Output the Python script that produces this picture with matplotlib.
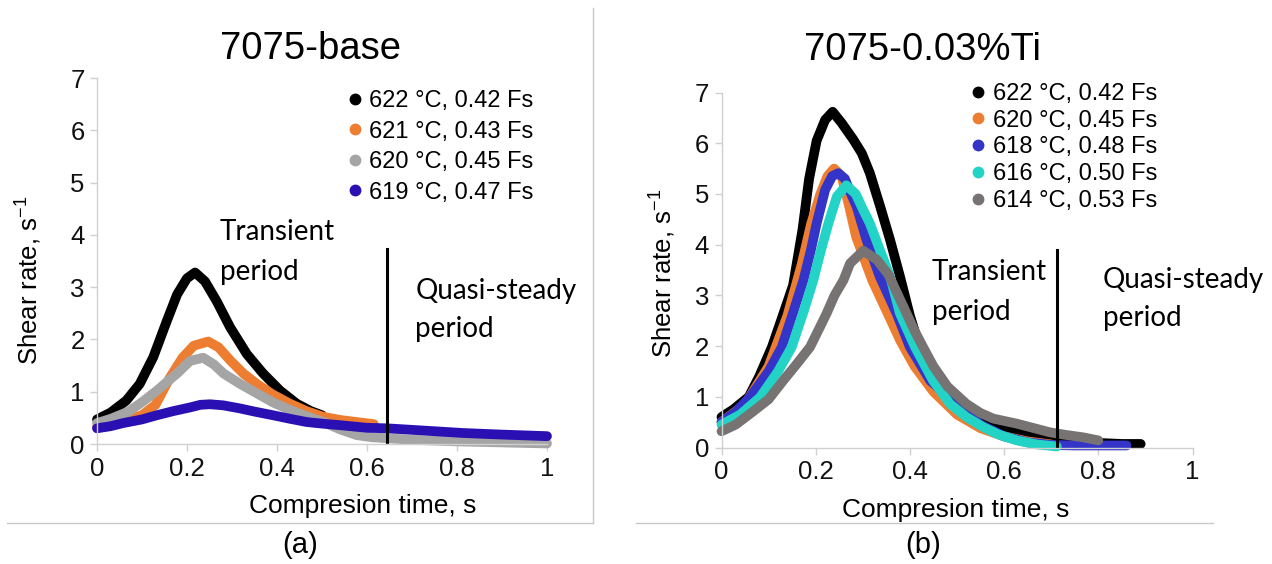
import matplotlib
matplotlib.use("Agg")
import matplotlib.pyplot as plt
from matplotlib.lines import Line2D

plt.rcParams['font.family'] = ['Liberation Sans', 'DejaVu Sans']
plt.rcParams['axes.unicode_minus'] = False

# ---- panel (a): 7075-base ----
a_labels = ["622 °C, 0.42 Fs", "621 °C, 0.43 Fs", "620 °C, 0.45 Fs", "619 °C, 0.47 Fs"]
a_colors = ["#000000", "#ed7d31", "#a5a5a5", "#2a0fb3"]

a_t_622 = [0, 0.03, 0.065, 0.095, 0.125, 0.155, 0.178, 0.2, 0.218, 0.24, 0.266, 0.296,
           0.333, 0.369, 0.407, 0.444, 0.475, 0.5]
a_v_622 = [0.47, 0.6, 0.83, 1.15, 1.66, 2.35, 2.86, 3.17, 3.28, 3.11, 2.73, 2.23,
           1.72, 1.35, 1.02, 0.77, 0.63, 0.55]

a_t_621 = [0, 0.05, 0.1, 0.13, 0.162, 0.19, 0.215, 0.247, 0.27, 0.296, 0.325, 0.355,
           0.39, 0.429, 0.465, 0.503, 0.54, 0.577, 0.615]
a_v_621 = [0.33, 0.42, 0.55, 0.75, 1.27, 1.65, 1.88, 1.96, 1.85, 1.6, 1.35, 1.15,
           0.95, 0.77, 0.63, 0.52, 0.46, 0.42, 0.38]

a_t_620 = [0, 0.03, 0.07, 0.1, 0.133, 0.16, 0.178, 0.207, 0.236, 0.26, 0.281, 0.318,
           0.355, 0.39, 0.429, 0.466, 0.503, 0.54, 0.577, 0.61, 0.7, 0.8, 0.9, 1.0]
a_v_620 = [0.4, 0.48, 0.62, 0.8, 1.02, 1.22, 1.35, 1.59, 1.65, 1.52, 1.35, 1.15,
           0.97, 0.8, 0.65, 0.53, 0.42, 0.28, 0.17, 0.13, 0.08, 0.05, 0.03, 0.01]

a_t_619 = [0, 0.03, 0.058, 0.1, 0.133, 0.17, 0.207, 0.23, 0.251, 0.28, 0.318, 0.35,
           0.391, 0.43, 0.466, 0.5, 0.54, 0.6, 0.644, 0.72, 0.814, 0.9, 1.0]
a_v_619 = [0.3, 0.34, 0.4, 0.47, 0.55, 0.63, 0.7, 0.75, 0.76, 0.74, 0.68, 0.62,
           0.55, 0.48, 0.42, 0.39, 0.36, 0.31, 0.3, 0.26, 0.21, 0.18, 0.15]

a_series = [(a_t_622, a_v_622), (a_t_621, a_v_621), (a_t_620, a_v_620), (a_t_619, a_v_619)]
a_split = 0.645
a_split_top = 3.72

# ---- panel (b): 7075-0.03%Ti ----
b_labels = ["622 °C, 0.42 Fs", "620 °C, 0.45 Fs", "618 °C, 0.48 Fs", "616 °C, 0.50 Fs", "614 °C, 0.53 Fs"]
b_colors = ["#000000", "#ed7d31", "#3434c8", "#22d3c6", "#777373"]

b_t_622 = [0, 0.025, 0.058, 0.08, 0.107, 0.13, 0.152, 0.172, 0.186, 0.202, 0.22, 0.236,
           0.255, 0.28, 0.298, 0.315, 0.337, 0.358, 0.379, 0.4, 0.42, 0.45, 0.5, 0.55,
           0.6, 0.65, 0.7, 0.75, 0.8, 0.85, 0.89]
b_v_622 = [0.6, 0.75, 1.0, 1.4, 1.98, 2.6, 3.2, 4.3, 5.3, 6.05, 6.46, 6.62,
           6.4, 6.07, 5.8, 5.41, 4.75, 4.09, 3.37, 2.6, 2.0, 1.5, 0.95, 0.6,
           0.38, 0.25, 0.17, 0.12, 0.09, 0.07, 0.07]

b_t_620 = [0, 0.05, 0.1, 0.14, 0.17, 0.19, 0.21, 0.225, 0.239, 0.255, 0.27, 0.286,
           0.3, 0.32, 0.35, 0.38, 0.41, 0.45, 0.5, 0.55, 0.6, 0.65, 0.7]
b_v_620 = [0.5, 0.85, 1.6, 2.6, 3.6, 4.4, 5.0, 5.35, 5.5, 5.35, 4.8, 4.15,
           3.8, 3.3, 2.7, 2.1, 1.6, 1.1, 0.65, 0.38, 0.22, 0.12, 0.06]

b_t_618 = [0, 0.03, 0.06, 0.1, 0.128, 0.15, 0.174, 0.19, 0.202, 0.22, 0.235, 0.248,
           0.262, 0.275, 0.287, 0.308, 0.336, 0.372, 0.4, 0.443, 0.5, 0.55, 0.6,
           0.65, 0.7, 0.75, 0.8, 0.86]
b_v_618 = [0.5, 0.7, 0.99, 1.5, 1.98, 2.6, 3.3, 3.9, 4.42, 5.08, 5.35, 5.41,
           5.3, 5.0, 4.75, 4.09, 3.37, 2.64, 1.98, 1.32, 0.85, 0.45, 0.22,
           0.1, 0.05, 0.04, 0.04, 0.04]

b_t_616 = [0, 0.04, 0.082, 0.12, 0.149, 0.175, 0.195, 0.21, 0.227, 0.245, 0.265, 0.285,
           0.3, 0.315, 0.336, 0.358, 0.379, 0.411, 0.449, 0.485, 0.52, 0.556, 0.59,
           0.627, 0.67, 0.712]
b_v_616 = [0.45, 0.65, 0.99, 1.5, 1.98, 2.7, 3.3, 3.85, 4.42, 4.95, 5.17, 5.0,
           4.7, 4.42, 3.9, 3.37, 2.64, 1.98, 1.32, 0.86, 0.6, 0.4, 0.25,
           0.14, 0.06, 0.02]

b_t_614 = [0, 0.03, 0.06, 0.1, 0.131, 0.16, 0.188, 0.205, 0.223, 0.24, 0.259, 0.273,
           0.301, 0.33, 0.355, 0.375, 0.393, 0.41, 0.428, 0.45, 0.48, 0.52, 0.55,
           0.577, 0.627, 0.66, 0.697, 0.73, 0.768, 0.8]
b_v_614 = [0.32, 0.45, 0.66, 0.95, 1.32, 1.65, 1.98, 2.3, 2.64, 3.0, 3.3, 3.63,
           3.88, 3.7, 3.4, 3.0, 2.64, 2.3, 1.98, 1.6, 1.2, 0.86, 0.68,
           0.57, 0.47, 0.39, 0.3, 0.25, 0.2, 0.14]

b_series = [(b_t_622, b_v_622), (b_t_620, b_v_620), (b_t_618, b_v_618),
            (b_t_616, b_v_616), (b_t_614, b_v_614)]
b_split = 0.713
b_split_top = 3.9

x_ticks = [0, 0.2, 0.4, 0.6, 0.8, 1]
x_ticklabels = ["0", "0.2", "0.4", "0.6", "0.8", "1"]
y_ticks = [0, 1, 2, 3, 4, 5, 6, 7]

W, H = 1272, 564
fig = plt.figure(figsize=(W / 100, H / 100), dpi=100)

ax_a = fig.add_axes([97 / W, 1 - 444 / H, 450 / W, 366 / H])
ax_b = fig.add_axes([721.5 / W, 1 - 447.5 / H, 471 / W, 355 / H])

note_font = dict(family=['Lato', 'DejaVu Sans'], fontsize=20)


def style_axes(ax):
    ax.set_xlim(0, 1)
    ax.set_ylim(0, 7)
    ax.set_xticks(x_ticks)
    ax.set_xticklabels(x_ticklabels)
    ax.set_yticks(y_ticks)
    for s in ['top', 'right']:
        ax.spines[s].set_visible(False)
    for s in ['left', 'bottom']:
        ax.spines[s].set_color('#d0d0d0')
        ax.spines[s].set_linewidth(1.0)
    ax.tick_params(direction='out', length=5, width=1, color='#d0d0d0',
                   labelsize=18.5, labelcolor='#111111', pad=4)
    ax.patch.set_alpha(0)


def draw_panel(ax, series, colors):
    for (t, v), c in zip(series, colors):
        ax.plot(t, v, color=c, lw=7, solid_capstyle='round', solid_joinstyle='round',
                clip_on=False)
    return [Line2D([], [], ls='none', marker='o', ms=7.5, color=c) for c in colors]


style_axes(ax_a)
h_a = draw_panel(ax_a, a_series, a_colors)
ax_a.plot([a_split, a_split], [0.03, a_split_top], color='k', lw=2.2)
ax_a.legend(h_a, a_labels, loc='upper left', bbox_to_anchor=(0.56, 0.967), frameon=False,
            fontsize=17, handlelength=0.5, handletextpad=0.35, labelspacing=0.36,
            borderpad=0, borderaxespad=0)
ax_a.text(0.273, 3.67, "Transient\nperiod", linespacing=1.64, va='center', ha='left', **note_font)
ax_a.text(0.707, 2.56, "Quasi-steady\nperiod", linespacing=1.55, va='center', ha='left', **note_font)
ax_a.set_xlabel("Compresion time, s", fontsize=19)
ax_a.xaxis.set_label_coords(0.59, -0.136)
ax_a.set_ylabel(r"Shear rate, s$^{\mathregular{-1}}$", fontsize=18.5)
ax_a.yaxis.set_label_coords(-0.12, 0.447)

style_axes(ax_b)
h_b = draw_panel(ax_b, b_series, b_colors)
ax_b.plot([b_split, b_split], [0.0, b_split_top], color='k', lw=2.2)
ax_b.legend(h_b, b_labels, loc='upper left', bbox_to_anchor=(0.533, 1.027), frameon=False,
            fontsize=17, handlelength=0.5, handletextpad=0.35, labelspacing=0.2,
            borderpad=0, borderaxespad=0)
ax_b.text(0.447, 3.07, "Transient\nperiod", linespacing=1.64, va='center', ha='left', **note_font)
ax_b.text(0.81, 2.93, "Quasi-steady\nperiod", linespacing=1.55, va='center', ha='left', **note_font)
ax_b.set_xlabel("Compresion time, s", fontsize=19)
ax_b.xaxis.set_label_coords(0.498, -0.141)
ax_b.set_ylabel(r"Shear rate, s$^{\mathregular{-1}}$", fontsize=18.5)
ax_b.yaxis.set_label_coords(-0.094, 0.49)

fig.text(310 / W, 1 - 48.6 / H, "7075-base", fontsize=27.5, ha='center', va='center')
fig.text(923 / W, 1 - 50.4 / H, "7075-0.03%Ti", fontsize=27.5, ha='center', va='center')
fig.text(300 / W, 1 - 545 / H, "(a)", fontsize=21, ha='center', va='center')
fig.text(923 / W, 1 - 545 / H, "(b)", fontsize=21, ha='center', va='center')

# page frame lines around the panels
frame = '#c8c8c8'
fig.add_artist(Line2D([593 / W, 593 / W], [1 - 8 / H, 1 - 523 / H], color=frame, lw=1))
fig.add_artist(Line2D([7 / W, 593 / W], [1 - 523 / H, 1 - 523 / H], color=frame, lw=1))
fig.add_artist(Line2D([636 / W, 1213 / W], [1 - 523 / H, 1 - 523 / H], color=frame, lw=1))

fig.savefig('out.png', dpi=100)
